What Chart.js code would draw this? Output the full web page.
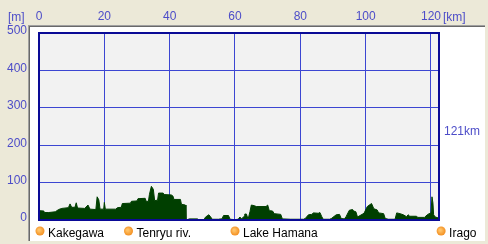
<!DOCTYPE html>
<html>
<head>
<meta charset="utf-8">
<script src="https://cdn.jsdelivr.net/npm/chart.js@4"></script>
<style>
  body { margin: 0; background: #ECE9D8; }
  canvas { display: block; }
</style>
</head>
<body>
<canvas id="profile" width="488" height="244"></canvas>
<script>
// distance along the route (km) and elevation (m)
const distKm = [0, 1.5, 1.6, 3, 5, 6, 7, 9, 9.5, 10, 11, 11.4, 11.8, 14, 15, 15.6, 17.4, 17.8, 18.3, 18.7,
  19.8, 20, 20.3, 23.5, 24, 25.2, 25.5, 28, 28.3, 30, 30.3, 32.5, 32.8, 33.5, 33.8, 34.4, 35, 35.4, 36.3, 36.6,
  38, 38.3, 40.5, 41, 41.3, 43.3, 43.6, 44.8, 45, 45.5, 46, 48.5, 48.8, 50.5, 51, 52, 52.5, 53, 55, 55.5,
  56, 56.5, 58, 58.5, 60, 61, 61.5, 62, 62.8, 63, 63.5, 64, 64.6, 65, 66, 66.5, 69.5, 70, 70.5, 71.5,
  72, 74, 74.5, 77, 81, 81.5, 82.5, 83.5, 84, 85.5, 86, 86.5, 87, 89, 89.5, 91, 92, 92.5, 93.5, 94,
  95, 96, 96.3, 97, 97.5, 99.5, 100.5, 101.8, 102.5, 103.5, 104, 105.5, 106, 107, 109, 109.5, 110.5, 111.5, 112.5, 113,
  113.5, 115.5, 116, 118, 119, 120, 120.3, 120.6, 120.8, 121.3, 122.45];
const elevM = [25, 24, 20, 20, 22, 28, 31, 33, 43, 34, 34, 46, 32, 31, 40, 29, 28, 62, 54, 29,
  29, 47, 29, 29, 33, 34, 44, 45, 50, 51, 57, 58, 50, 50, 68, 90, 82, 52, 53, 72,
  72, 68, 67, 64, 55, 55, 42, 40, 0, 1, 3, 3, 1, 1, 8, 14, 9, 2, 2, 3,
  3, 12, 12, 2, 1, 2, 8, 3, 10, 16, 16, 2, 23, 40, 38, 36, 36, 40, 25, 24,
  17, 15, 3, 2, 2, 4, 14, 15, 19, 18, 20, 10, 2, 2, 4, 14, 15, 4, 3, 9,
  26, 28, 24, 22, 8, 18, 36, 44, 30, 27, 19, 17, 4, 2, 2, 19, 17, 14, 9, 14,
  10, 10, 7, 7, 15, 19, 62, 45, 14, 8, 5];

const xTicks = [0, 20, 40, 60, 80, 100, 120];
const yTicks = [0, 100, 200, 300, 400, 500];

const placeNames = ['Kakegawa', 'Tenryu riv.', 'Lake Hamana', 'Irago'];
const placeKm = [0.3, 27.4, 60, 123.1];
const routeLabel = '121km';

const labelBlue = '#4d4dc8';
const font12 = { family: 'Liberation Sans, Arial, sans-serif', size: 12 };

const frame = {
  id: 'frame',
  beforeDraw(chart) {
    const c = chart.ctx, a = chart.chartArea;
    c.save();
    c.fillStyle = '#ECE9D8';
    c.fillRect(0, 0, chart.width, chart.height);
    c.fillStyle = '#ffffff';
    c.fillRect(30, 27, 455, 214);
    c.fillStyle = '#a0a0a0';
    c.fillRect(28, 25, 457, 1);
    c.fillRect(28, 25, 1, 216);
    c.fillStyle = '#696969';
    c.fillRect(29, 26, 456, 1);
    c.fillRect(29, 26, 1, 215);
    c.fillStyle = '#F2F2F2';
    c.fillRect(a.left, a.top, a.right - a.left, a.bottom - a.top);
    c.restore();
  },
  afterDraw(chart) {
    const c = chart.ctx, a = chart.chartArea, xs = chart.scales.x;
    c.save();
    c.strokeStyle = '#0a0a96';
    c.lineWidth = 2;
    c.strokeRect(a.left, a.top, a.right - a.left, a.bottom - a.top);

    c.font = '12px ' + font12.family;
    c.fillStyle = labelBlue;
    c.textBaseline = 'alphabetic';
    c.textAlign = 'left';
    c.fillText('[m]', 8, 21);
    c.fillText('[km]', xs.getPixelForValue(120) + 12, 21);
    c.fillText(routeLabel, a.right + 5, (a.top + a.bottom) / 2 + 8);

    // place markers under the axis
    placeNames.forEach((name, i) => {
      const px = xs.getPixelForValue(placeKm[i]);
      const g = c.createRadialGradient(px - 1, 230, 1, px, 231, 5);
      g.addColorStop(0, '#ffc266');
      g.addColorStop(1, '#f28a1a');
      c.fillStyle = g;
      c.beginPath();
      c.arc(px, 231, 4.5, 0, Math.PI * 2);
      c.fill();
      c.fillStyle = '#000000';
      c.fillText(name, px + 8, 237);
    });
    c.restore();
  }
};

new Chart(document.getElementById('profile'), {
  type: 'line',
  data: {
    datasets: [{
      data: distKm.map((k, i) => ({ x: k, y: elevM[i] })),
      fill: 'origin',
      backgroundColor: '#003f00',
      borderColor: '#003f00',
      borderWidth: 1,
      pointRadius: 0,
      tension: 0
    }]
  },
  options: {
    responsive: false,
    animation: false,
    devicePixelRatio: 1,
    layout: { padding: { top: 0, left: 0, right: 49, bottom: 24 } },
    plugins: { legend: { display: false }, tooltip: { enabled: false } },
    scales: {
      x: {
        type: 'linear',
        position: 'top',
        min: 0,
        max: 122.45,
        z: 1,
        afterFit: s => { s.height = 33; },
        afterBuildTicks: s => { s.ticks = xTicks.map(v => ({ value: v })); },
        border: { display: false },
        grid: { color: '#3c46d2', lineWidth: 1, drawTicks: false },
        ticks: { color: labelBlue, font: font12, padding: 9, maxRotation: 0 }
      },
      y: {
        min: 0,
        max: 500,
        z: 1,
        afterFit: s => { s.width = 39; },
        afterBuildTicks: s => { s.ticks = yTicks.map(v => ({ value: v })); },
        border: { display: false },
        grid: { color: '#3c46d2', lineWidth: 1, drawTicks: false },
        ticks: { color: labelBlue, font: font12, padding: 12, labelOffset: -2 }
      }
    }
  },
  plugins: [frame]
});
</script>
</body>
</html>
